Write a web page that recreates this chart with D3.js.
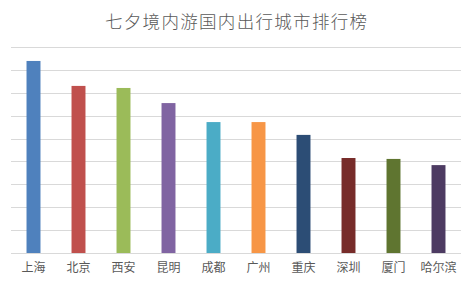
<!DOCTYPE html>
<html>
<head>
<meta charset="utf-8">
<script src="https://cdn.jsdelivr.net/npm/d3@7"></script>
<style>
  html, body { margin: 0; padding: 0; background: #fff; }
</style>
</head>
<body>
<div id="chart"></div>
<script>
// chart data
var cities = ['上海', '北京', '西安', '昆明', '成都', '广州', '重庆', '深圳', '厦门', '哈尔滨'];
var values = [8.39, 7.30, 7.21, 6.55, 5.72, 5.72, 5.16, 4.15, 4.11, 3.84];
var colors = ['#4F81BD', '#C0504D', '#9BBB59', '#8064A2', '#4BACC6', '#F79646', '#2C4D75', '#772C2A', '#5F7530', '#4D3B62'];
var gridTicks = [0, 1, 2, 3, 4, 5, 6, 7, 8, 9];
var title = '七夕境内游国内出行城市排行榜';

const chartWidth = 473;
const chartHeight = 283;

const fontStack = '"Microsoft YaHei", "Noto Sans CJK SC", sans-serif';

var svg = d3.select('#chart').append('svg')
            .attr('width', chartWidth)
            .attr('height', chartHeight);

svg.append('rect')
    .attr('width', '100%')
    .attr('height', '100%')
    .attr('fill', '#ffffff');

// scales
var xScale = d3.scaleBand()
             .domain(cities)
             .range([11, 461])
             .paddingInner(0.69)
             .paddingOuter(0.345);

var yScale = d3.scaleLinear()
             .domain([0, 9])
             .range([253, 47]);

// gridlines
svg.append('g')
    .selectAll('line')
    .data(gridTicks)
    .enter()
    .append('line')
    .attr('x1', 11)
    .attr('x2', 461)
    .attr('y1', function(d) { return Math.round(yScale(d)) + 0.5; })
    .attr('y2', function(d) { return Math.round(yScale(d)) + 0.5; })
    .attr('stroke', '#D9D9D9')
    .attr('stroke-width', 1);

// bars
svg.append('g')
    .selectAll('rect')
    .data(values)
    .enter()
    .append('rect')
    .attr('x', function(d, i) { return xScale(cities[i]); })
    .attr('y', function(d) { return yScale(d); })
    .attr('width', xScale.bandwidth())
    .attr('height', function(d) { return yScale(0) - yScale(d); })
    .attr('fill', function(d, i) { return colors[i]; });

// category axis (labels only)
var xAxis = svg.append('g')
    .attr('transform', 'translate(0,' + yScale(0) + ')')
    .call(d3.axisBottom(xScale).tickSize(0).tickPadding(10));

xAxis.select('.domain').remove();
xAxis.selectAll('text')
    .attr('dy', '0.71em')
    .attr('fill', '#595959')
    .style('font-family', fontStack)
    .style('font-size', '12px');

// title
svg.append('text')
    .attr('x', 105)
    .attr('y', 28)
    .attr('textLength', 262)
    .attr('lengthAdjust', 'spacing')
    .attr('fill', '#595959')
    .style('font-family', fontStack)
    .style('font-size', '17.5px')
    .style('font-weight', '300')
    .text(title);
</script>
</body>
</html>
